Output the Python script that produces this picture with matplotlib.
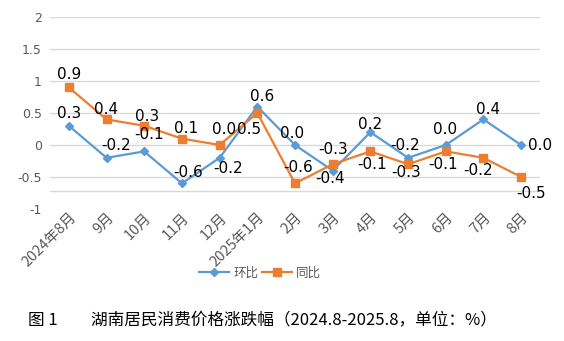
import matplotlib
matplotlib.use("Agg")
import matplotlib.pyplot as plt
import numpy as np

plt.rcParams['font.family'] = ['Noto Sans CJK SC', 'DejaVu Sans']
plt.rcParams['axes.unicode_minus'] = False

months = ["2024年8月", "9月", "10月", "11月", "12月", "2025年1月", "2月",
          "3月", "4月", "5月", "6月", "7月", "8月"]
mom = [0.3, -0.2, -0.1, -0.6, -0.2, 0.6, 0.0, -0.4, 0.2, -0.2, 0.0, 0.4, 0.0]
yoy = [0.9, 0.4, 0.3, 0.1, 0.0, 0.5, -0.6, -0.3, -0.1, -0.3, -0.1, -0.2, -0.5]
yticks = [-1, -0.5, 0, 0.5, 1, 1.5, 2]
ytick_labels = ["-1", "-0.5", "0", "0.5", "1", "1.5", "2"]

# label offsets in pixels (dx, dy) relative to each point
mom_off = [(0, 12), (10, 12), (5, 17), (6, 11), (8, -11), (5, 10), (-3, 11),
           (-3, -8), (0, 8), (-3, 12), (-1, 16), (5, 10), (19, 0)]
yoy_off = [(0, 13), (0, 10), (3, 9), (4, 10), (4, 16), (-8, -17), (3, 16),
           (0, 15), (2, -13), (-2, -8), (-3, -13), (-5, -13), (10, -16)]

BLUE = "#5B9BD5"
ORANGE = "#ED7D31"
GRAY = "#595959"

fig = plt.figure(figsize=(5.64, 3.41), dpi=100)
ax = fig.add_axes([50 / 564, 1 - 209 / 341, 490 / 564, 192 / 341])

x = np.arange(len(months))
ax.plot(x, mom, color=BLUE, lw=1.6, marker="D", ms=4.5, label="环比", zorder=3)
ax.plot(x, yoy, color=ORANGE, lw=1.6, marker="s", ms=6, label="同比", zorder=3)

for xi, v, (dx, dy) in zip(x, mom, mom_off):
    ax.annotate(f"{v:.1f}", (xi, v), xytext=(dx, dy), textcoords="offset pixels",
                ha="center", va="center", fontsize=11, family="DejaVu Sans")
for xi, v, (dx, dy) in zip(x, yoy, yoy_off):
    ax.annotate(f"{v:.1f}", (xi, v), xytext=(dx, dy), textcoords="offset pixels",
                ha="center", va="center", fontsize=11, family="DejaVu Sans")

ax.set_xlim(-0.5, len(months) - 0.5)
ax.set_ylim(-1, 2)
ax.set_yticks(yticks)
ax.set_yticklabels(ytick_labels, color=GRAY, fontsize=9, family="DejaVu Sans")
for yv in yticks[1:]:
    ax.axhline(yv, color="#D9D9D9", lw=1, zorder=0)
ax.axhline(-0.72, color="#D9D9D9", lw=1, zorder=0)

ax.set_xticks(x)
ax.set_xticklabels(months, rotation=45, ha="right", rotation_mode="anchor",
                   color=GRAY, fontsize=10.5)
ax.tick_params(axis="x", length=0, pad=1)
ax.tick_params(axis="y", length=0, pad=6)
for s in ax.spines.values():
    s.set_visible(False)

fig.legend(loc="center", bbox_to_anchor=(260 / 564, 1 - 273 / 341), ncol=2,
           frameon=False, fontsize=9, labelcolor=GRAY, handlelength=2.4,
           handletextpad=0.3, columnspacing=0.3, markerscale=0.85)

fig.text(28 / 564, 1 - 321 / 341,
         "图 1　　湖南居民消费价格涨跌幅（2024.8-2025.8，单位：%）",
         ha="left", va="center", fontsize=12)

fig.savefig("out.png", dpi=100)
